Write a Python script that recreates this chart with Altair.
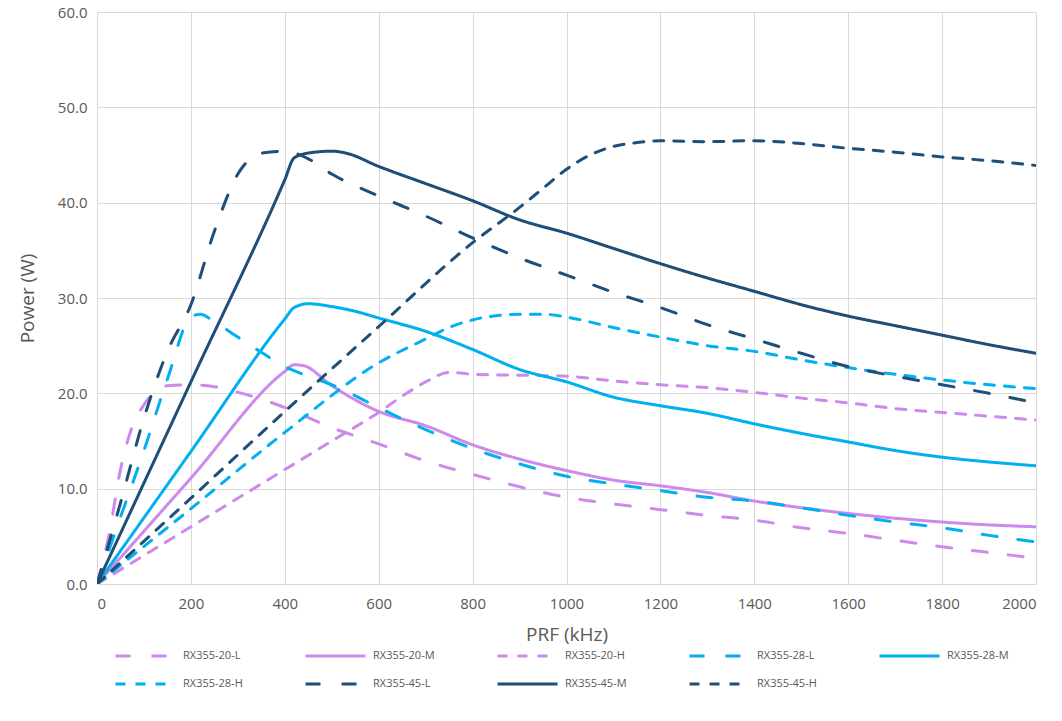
import altair as alt
import pandas as pd

# ---- data ----
series_names = ["RX355-20-L", "RX355-20-M", "RX355-20-H",
                "RX355-28-L", "RX355-28-M", "RX355-28-H",
                "RX355-45-L", "RX355-45-M", "RX355-45-H"]

x_20L = [0, 25, 50, 75, 100, 125, 150, 200, 250, 300, 350, 400, 500, 600, 700, 800, 900, 1000, 1100, 1200, 1300, 1400, 1500, 1600, 1700, 1800, 1900, 2000]
y_20L = [0, 5.0, 12.0, 16.5, 18.8, 20.3, 20.8, 20.9, 20.7, 20.1, 19.4, 18.5, 16.4, 14.7, 12.9, 11.5, 10.2, 9.1, 8.4, 7.8, 7.2, 6.7, 5.9, 5.3, 4.6, 3.9, 3.3, 2.7]

x_20M = [0, 200, 400, 420, 440, 500, 600, 700, 800, 900, 1000, 1100, 1200, 1300, 1400, 1500, 1600, 1700, 1800, 1900, 2000]
y_20M = [0, 11.1, 22.3, 23.0, 22.9, 20.8, 18.1, 16.6, 14.6, 13.1, 11.9, 10.9, 10.3, 9.6, 8.7, 8.0, 7.4, 6.9, 6.5, 6.2, 6.0]

x_20H = [0, 200, 400, 500, 600, 650, 700, 750, 800, 900, 1000, 1100, 1200, 1300, 1400, 1500, 1600, 1700, 1800, 1900, 2000]
y_20H = [0, 6.0, 12.0, 15.0, 18.0, 19.7, 21.2, 22.2, 22.0, 21.9, 21.8, 21.3, 20.9, 20.6, 20.1, 19.5, 19.0, 18.4, 18.0, 17.6, 17.2]

x_28L = [0, 50, 100, 150, 200, 220, 250, 300, 350, 400, 450, 500, 600, 700, 800, 900, 1000, 1100, 1200, 1300, 1400, 1500, 1600, 1700, 1800, 1900, 2000]
y_28L = [0, 7.0, 14.0, 21.5, 28.0, 28.3, 27.5, 25.9, 24.3, 22.8, 21.8, 20.9, 18.5, 16.2, 14.2, 12.6, 11.3, 10.5, 9.8, 9.1, 8.7, 8.0, 7.2, 6.5, 5.9, 5.1, 4.4]

x_28M = [0, 200, 400, 420, 450, 500, 550, 600, 700, 800, 900, 1000, 1100, 1200, 1300, 1400, 1500, 1600, 1700, 1800, 1900, 2000]
y_28M = [0, 13.9, 27.8, 29.0, 29.4, 29.1, 28.6, 27.9, 26.5, 24.6, 22.5, 21.2, 19.6, 18.7, 17.9, 16.8, 15.8, 14.9, 14.0, 13.3, 12.8, 12.4]

x_28H = [0, 200, 400, 600, 700, 750, 800, 900, 950, 1000, 1100, 1200, 1300, 1400, 1500, 1600, 1700, 1800, 1900, 2000]
y_28H = [0, 7.9, 15.9, 23.2, 25.7, 26.9, 27.7, 28.3, 28.3, 28.0, 26.9, 25.9, 25.0, 24.4, 23.5, 22.7, 22.0, 21.4, 20.9, 20.5]

x_45L = [0, 50, 100, 150, 200, 250, 300, 350, 400, 450, 500, 600, 700, 800, 900, 1000, 1100, 1200, 1300, 1400, 1500, 1600, 1700, 1800, 1900, 2000]
y_45L = [0, 8.5, 17.4, 24.4, 29.3, 37.0, 43.0, 45.2, 45.4, 44.6, 43.0, 40.7, 38.6, 36.3, 34.2, 32.4, 30.6, 29.0, 27.2, 25.7, 24.2, 22.8, 21.8, 20.9, 20.0, 19.0]

x_45M = [0, 200, 400, 420, 450, 500, 530, 600, 700, 800, 900, 1000, 1100, 1200, 1300, 1400, 1500, 1600, 1700, 1800, 1900, 2000]
y_45M = [0, 21.2, 42.4, 44.7, 45.2, 45.4, 45.2, 43.8, 42.0, 40.2, 38.2, 36.8, 35.2, 33.6, 32.1, 30.7, 29.3, 28.1, 27.1, 26.1, 25.1, 24.2]

x_45H = [0, 200, 400, 600, 800, 900, 950, 1000, 1050, 1100, 1150, 1200, 1300, 1400, 1500, 1600, 1700, 1800, 1900, 2000]
y_45H = [0, 9.0, 18.1, 27.0, 35.8, 39.5, 41.5, 43.5, 45.0, 45.9, 46.3, 46.5, 46.4, 46.5, 46.2, 45.7, 45.3, 44.8, 44.4, 43.9]

x_ticks = [0, 200, 400, 600, 800, 1000, 1200, 1400, 1600, 1800, 2000]
y_ticks = [0, 10, 20, 30, 40, 50, 60]

series_xy = [(x_20L, y_20L), (x_20M, y_20M), (x_20H, y_20H),
             (x_28L, y_28L), (x_28M, y_28M), (x_28H, y_28H),
             (x_45L, y_45L), (x_45M, y_45M), (x_45H, y_45H)]

rows = []
for name, (xs, ys) in zip(series_names, series_xy):
    for i, (xv, yv) in enumerate(zip(xs, ys)):
        rows.append({"series": name, "PRF": xv, "Power": yv, "order": i})
df = pd.DataFrame(rows)

violet = "#CD8AEB"
cyan = "#00B0F0"
navy = "#1F4E79"
colors = [violet, violet, violet, cyan, cyan, cyan, navy, navy, navy]
dash_L = [15, 21]
dash_M = [1, 0]
dash_H = [10, 10]
dashes = [dash_L, dash_M, dash_H] * 3

FONT = "Open Sans"
GRAY = "#595959"

chart = alt.Chart(df).mark_line(
    strokeWidth=3, strokeCap="round", interpolate="monotone", clip=True
).encode(
    x=alt.X("PRF:Q",
            scale=alt.Scale(domain=[0, 2000], nice=False),
            axis=alt.Axis(values=x_ticks, title="PRF (kHz)", format="d",
                          grid=True, ticks=False, labelPadding=12, titlePadding=14)),
    y=alt.Y("Power:Q",
            scale=alt.Scale(domain=[0, 60], nice=False),
            axis=alt.Axis(values=y_ticks, title="Power (W)", format=".1f",
                          grid=True, ticks=False, domain=False, labelPadding=10, titlePadding=20)),
    color=alt.Color("series:N",
                    scale=alt.Scale(domain=series_names, range=colors),
                    legend=alt.Legend(title=None, orient="none", legendX=17, legendY=636,
                                      direction="horizontal",
                                      columns=5, symbolType="stroke", symbolSize=3600,
                                      symbolStrokeWidth=3, labelFontSize=11, labelColor=GRAY,
                                      labelFont=FONT, columnPadding=61, rowPadding=12,
                                      clipHeight=16, labelOffset=6)),
    strokeDash=alt.StrokeDash("series:N",
                              scale=alt.Scale(domain=series_names, range=dashes)),
    detail="series:N",
    order="order:Q",
).properties(
    width=939, height=572,
    padding={"left": 18, "top": 5, "right": 20, "bottom": 5},
).configure_axis(
    gridColor="#D9D9D9", gridWidth=1,
    domainColor="#D9D9D9", domainWidth=1,
    labelFont=FONT, labelFontSize=15, labelColor=GRAY,
    titleFont=FONT, titleFontSize=19, titleColor=GRAY, titleFontWeight="normal",
).configure_view(strokeWidth=0)

chart.save("out.html", embed_options={"renderer": "svg", "actions": False})
